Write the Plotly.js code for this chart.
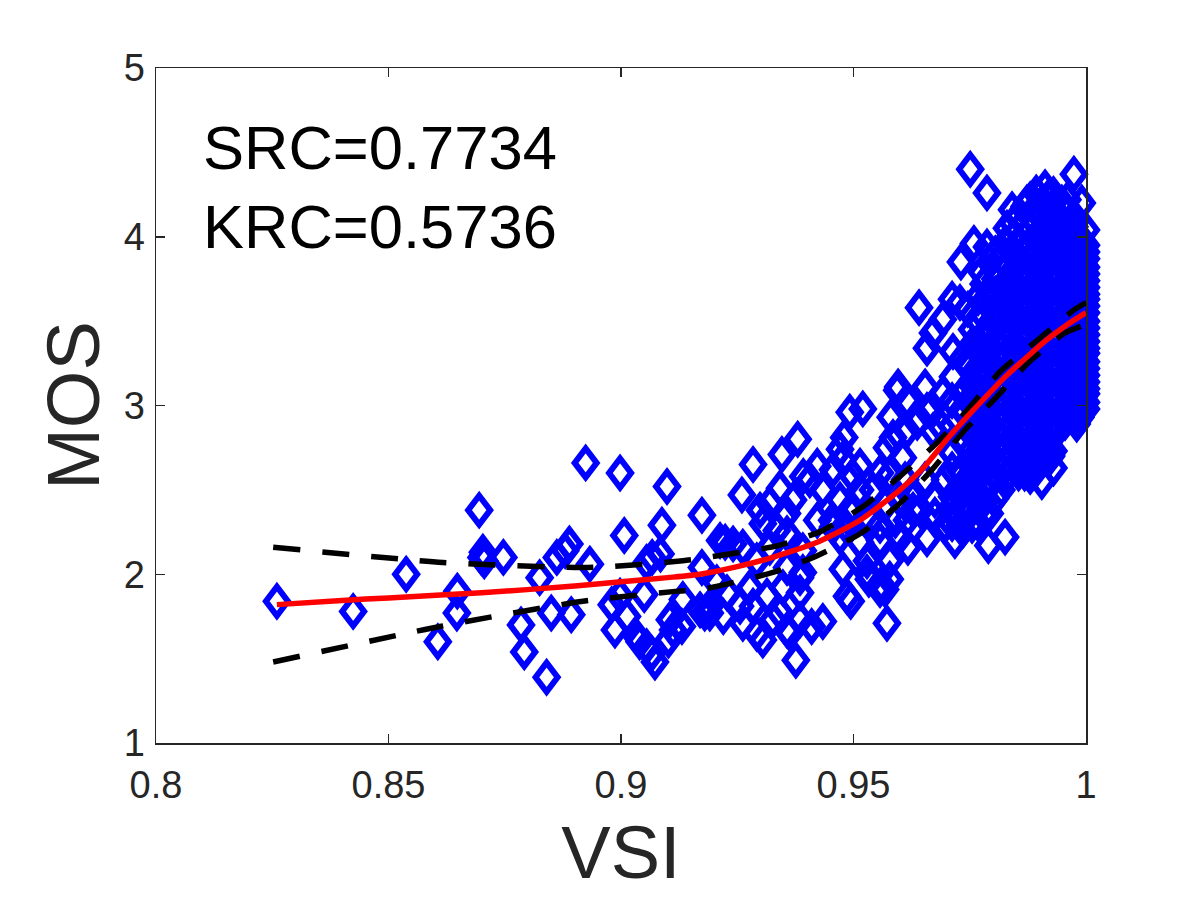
<!DOCTYPE html>
<html><head><meta charset="utf-8">
<script src="https://cdn.plot.ly/plotly-3.0.1.min.js"></script>
<style>html,body{margin:0;padding:0;background:#fff}#chart{width:1200px;height:900px}</style>
</head><body><div id="chart"></div>
<script>
// Sparse, low-quality end of the scatter
const sparseVsi = [.826,.8424,.8538,.8695,.8648,.8647,.8606,.870,.8703,.8706,.8747,.8825,.8785,.8792,.884,.8862,.8889,.888,.8933,.885,.8893,.8924,.8998,.9099,.9007,.9088,.9174,.905,.9067,.9055,.9085,.898,.8987,.8998,.9013,.9034,.904,.9055,.9073,.9066,.9105,.9102,.9112,.9131,.9133,.9174,.917,.918];
const sparseMos = [1.84,1.78,2.0,2.38,1.9,1.77,1.6,2.1,2.13,2.08,2.1,1.98,1.7,1.54,1.39,2.1,2.18,2.14,2.06,1.77,1.76,2.66,2.6,2.52,2.23,2.29,2.35,1.88,2.1,2.07,2.12,1.82,1.67,1.87,1.75,1.63,1.6,1.57,1.48,1.53,1.73,1.61,1.67,1.69,1.85,2.04,1.79,1.77];
// Middle of the scatter
const midVsi = [.9224,.9213,.9241,.926,.9284,.9346,.938,.948,.9492,.952,.9342,.9299,.932,.9305,.9357,.9406,.9392,.9434,.9471,.9454,.9477,.9471,.9514,.9499,.9456,.9422,.9585,.9572,.9615,.9606,.9557,.9542,.9658,.9615,.9692,.9637,.9671,.9471,.9514,.9557,.9529,.9578,.9533,.9578,.9568,.9557,.9486,.9494,.9572,.9477,.9529,.9557,.96,.9615,.9628,.9617,.9658,.9718,.979,.9826,.9376,.9305,.9363,.9434,.941,.9385,.9342,.9262,.922,.9191,.9256,.9284,.9314,.9385,.9385,.9348,.9327,.9357,.9292,.9206,.9191,.9277,.9228,.932,.9292,.9262,.9357,.9391,.937,.9335,.9357,.9422,.9456,.9391,.9492,.9535,.9514,.9568,.959,.9557,.9482,.96,.9622,.9611,.9578,.9654,.9675,.9697,.9643,.9675,.9708,.9729,.9761,.9697,.9594,.958];
const midMos = [2.19,2.2,2.18,2.47,2.65,2.71,2.8,2.81,2.96,2.98,2.51,2.38,2.42,2.3,2.36,2.56,2.58,2.5,2.44,2.32,2.68,2.74,2.64,2.58,2.62,2.64,2.81,2.75,2.85,2.69,2.6,2.5,2.97,3.03,3.07,2.9,2.85,2.22,2.19,2.2,2.08,2.08,1.97,1.97,1.91,1.91,1.87,1.84,1.71,2.03,2.01,1.93,2.22,2.32,2.38,2.16,2.21,2.2,2.17,2.22,1.49,1.61,1.65,1.72,1.69,1.73,1.77,1.71,1.75,1.77,1.81,1.81,1.87,1.89,1.98,1.92,1.73,1.67,1.65,1.95,1.81,1.92,1.89,2.16,2.08,2.16,2.04,2.01,2.44,2.26,2.24,2.32,2.28,2.14,2.38,2.32,2.5,2.41,2.32,2.29,2.29,2.44,2.47,2.56,2.59,2.56,2.44,2.56,2.38,2.35,2.38,2.29,2.32,2.29,3.09,2.93];
// Upper-left edge of the dense cloud
const edgeVsi = [.9751,.9787,.9641,.9731,.9759,.9787,.9776,.9852,.9841,.9712,.9729,.9746,.9671,.9658,.9714,.9692,.975,.9596,.9654,.9669,.9714,.9735,.969,.9787,.98,.9766,.9826,.9912,.9873,.9974,.9991];
const edgeMos = [4.4,4.26,3.58,3.85,3.96,3.94,3.79,3.86,4.16,3.63,3.61,3.57,3.43,3.34,3.32,3.51,3.23,3.11,3.11,2.99,3.17,3.07,2.87,3.64,3.51,3.51,3.96,4.29,4.2,4.37,4.2];
// Dense cloud, read column by column
const denseVsi = [1.0,.998,.9955,.993,.9905,.988,.9855,.983,.9805,.978,.9755];
const denseMos = [
 [4.04,3.95,3.87,3.78,3.7,3.63,3.55,3.46,3.38,3.31,3.22,3.14,3.07,2.98],
 [4.1,4.02,3.92,3.83,3.75,3.67,3.58,3.48,3.4,3.32,3.23,3.13,3.05,2.95,2.89],
 [4.15,4.06,3.97,3.89,3.8,3.7,3.62,3.53,3.45,3.35,3.26,3.18,3.08,2.99,2.9],
 [4.25,4.16,4.07,3.98,3.9,3.81,3.72,3.63,3.54,3.44,3.36,3.27,3.18,3.09,3.0,2.91,2.82,2.73,2.63],
 [4.2,4.11,4.03,3.93,3.84,3.75,3.66,3.57,3.48,3.39,3.3,3.21,3.12,3.03,2.94,2.85,2.76,2.67,2.55],
 [4.22,4.13,4.05,3.96,3.87,3.78,3.7,3.6,3.52,3.42,3.34,3.24,3.16,3.06,2.98,2.88,2.8,2.7,2.58],
 [4.12,4.04,3.94,3.85,3.76,3.67,3.58,3.49,3.4,3.31,3.22,3.13,3.04,2.95,2.86,2.77,2.68,2.6],
 [4.05,3.95,3.82,3.72,3.63,3.55,3.46,3.37,3.28,3.19,3.1,3.01,2.92,2.83,2.74,2.65,2.58],
 [3.9,3.75,3.66,3.58,3.48,3.39,3.3,3.21,3.12,3.03,2.94,2.85,2.76,2.67,2.58,2.45],
 [3.72,3.42,3.33,3.24,3.15,3.06,2.97,2.88,2.79,2.7,2.61,2.52,2.43,2.35],
 [3.45,3.36,3.12,3.02,2.92,2.83,2.74,2.65,2.56,2.47,2.38,2.29]
];
// Second pass through the dense cloud, between the columns above
const fillVsi = [.9992,.9968,.9943,.9918,.9893,.9868,.9843,.9818,.9793,.9768,.9735,.9712];
const fillMos = [
 [3.9,3.74,3.58,3.42,3.26,3.1],
 [3.97,3.78,3.62,3.45,3.28,3.1,2.96],
 [4.11,3.93,3.76,3.58,3.4,3.22,3.04,2.88],
 [4.23,4.02,3.85,3.68,3.5,3.32,3.15,2.96,2.78,2.68],
 [4.26,4.08,3.9,3.71,3.53,3.35,3.17,2.99,2.81,2.62],
 [4.18,4.0,3.82,3.64,3.45,3.27,3.09,2.91,2.73,2.6],
 [4.08,3.9,3.72,3.54,3.36,3.18,3.0,2.82,2.64],
 [3.88,3.7,3.52,3.34,3.16,2.98,2.8,2.62,2.5],
 [3.85,3.68,3.42,3.25,3.07,2.89,2.71,2.53,2.36],
 [3.64,3.38,3.2,3.02,2.84,2.66,2.48,2.3],
 [3.28,2.98,2.78,2.6,2.5,2.42,2.26],
 [3.03,2.88,2.72,2.62,2.46,2.3]
];
// Third pass: right side and top of the solid part of the cloud
const solidVsi = [1.0,.9988,.9975,.996,.9948,.9925,.99,.987];
const solidMos = [
 [3.91,3.82,3.74,3.66,3.59,3.5,3.42,3.34,3.26,3.18,3.1,3.02],
 [3.98,3.86,3.7,3.54,3.36,3.18,3.0,2.93],
 [4.06,3.88,3.71,3.53,3.36,3.18,3.01,2.92],
 [4.22,4.14,4.01,3.84,3.66,3.49,3.31,3.13,2.95],
 [4.2,4.02,3.85,3.67,3.49,3.31,3.13,2.95],
 [4.12,3.94,3.76,3.58,3.4,3.22,3.05,2.87,2.7],
 [4.16,3.98,3.8,3.62,3.44,3.26,3.08,2.9,2.72],
 [4.09,3.91,3.74,3.56,3.38,3.2,3.02,2.84,2.66]
];
// Fitted curve and confidence bounds
const fitVsi = [.826,.84,.85,.87,.89,.9,.91,.917,.925,.9314,.9422,.9514,.96,.965,.9701,.975,.983,.9916,.996,1.0];
const fitMos = [1.82,1.845,1.86,1.89,1.93,1.955,1.98,2.0,2.045,2.09,2.19,2.32,2.5,2.63,2.8,2.95,3.18,3.39,3.48,3.55];
const upperVsi = [.8252,.8617,.8929,.9133,.9185,.9338,.9434,.9525,.9604,.968,.975,.9815,.9897,.9976,1.0];
const upperMos = [2.16,2.07,2.04,2.08,2.1,2.17,2.26,2.41,2.59,2.78,2.99,3.2,3.39,3.57,3.61];
const lowerVsi = [.8252,.861,.8918,.9123,.9174,.9325,.9422,.9514,.9596,.9669,.9735,.9804,.9875,.9955,1.0];
const lowerMos = [1.48,1.69,1.84,1.9,1.91,2.01,2.11,2.24,2.41,2.62,2.84,3.04,3.25,3.43,3.48];
const xTicks = [.8,.85,.9,.95,1];
const xTickLabels = ['0.8','0.85','0.9','0.95','1'];
const yTicks = [1,2,3,4,5];
const statLabels = ['SRC=0.7734','KRC=0.5736'];

const scatterX = sparseVsi.concat(midVsi, edgeVsi);
const scatterY = sparseMos.concat(midMos, edgeMos);
[[denseVsi,denseMos],[fillVsi,fillMos],[solidVsi,solidMos]].forEach(([vs,ms])=>
  vs.forEach((v,i)=>ms[i].forEach(m=>{scatterX.push(v);scatterY.push(m);})));

const ink = '#262626';
const fontFam = 'Liberation Sans, Arial, sans-serif';
const axisBase = {showgrid:false,zeroline:false,showline:true,mirror:'ticks',linecolor:ink,linewidth:1.5,
  ticks:'inside',ticklen:9,tickwidth:1.5,tickcolor:ink,
  tickfont:{family:fontFam,size:38,color:ink}};
const titleFont = {family:fontFam,size:74,color:ink};

Plotly.newPlot('chart',[
 {type:'scatter',mode:'markers',x:scatterX,y:scatterY,cliponaxis:false,
  marker:{symbol:'diamond-open',size:18,color:'#0000ff',line:{width:6,color:'#0000ff'}},showlegend:false},
 {type:'scatter',mode:'lines',x:upperVsi,y:upperMos,line:{color:'#000',width:5.5,dash:'27px,22px',shape:'spline',smoothing:.6},showlegend:false},
 {type:'scatter',mode:'lines',x:lowerVsi,y:lowerMos,line:{color:'#000',width:5.5,dash:'27px,22px',shape:'spline',smoothing:.6},showlegend:false},
 {type:'scatter',mode:'lines',x:fitVsi,y:fitMos,line:{color:'#ff0000',width:5.5,shape:'spline',smoothing:.6},showlegend:false}
],{
 width:1200,height:900,paper_bgcolor:'#fff',plot_bgcolor:'#fff',
 margin:{l:156,r:114,t:68,b:157,pad:0},showlegend:false,
 xaxis:Object.assign({},axisBase,{range:[.8,1],tickvals:xTicks,ticktext:xTickLabels,ticklabelstandoff:8,
   title:{text:'VSI',font:titleFont,standoff:21}}),
 yaxis:Object.assign({},axisBase,{range:[1,5],tickvals:yTicks,ticktext:yTicks.map(String),ticklabelstandoff:2,
   title:{text:'MOS',font:titleFont,standoff:0}}),
 annotations:statLabels.map((t,i)=>({text:t,xref:'paper',yref:'paper',xanchor:'left',yanchor:'middle',
   x:(201-156)/930,y:1-(148+i*78-68)/675,showarrow:false,
   font:{family:fontFam,size:61.5,color:'#000'}}))
},{displayModeBar:false,staticPlot:true}).then(gd=>{
 // The reference's diamonds are taller than wide: reshape the library's marker path in place.
 const markerHalfWidth = 11, markerHalfHeight = 14.5;
 gd.querySelectorAll('.scatterlayer .points path.point').forEach(p=>{
   p.setAttribute('d',`M${markerHalfWidth},0L0,${markerHalfHeight}L-${markerHalfWidth},0L0,-${markerHalfHeight}Z`);
 });
});
</script></body></html>
